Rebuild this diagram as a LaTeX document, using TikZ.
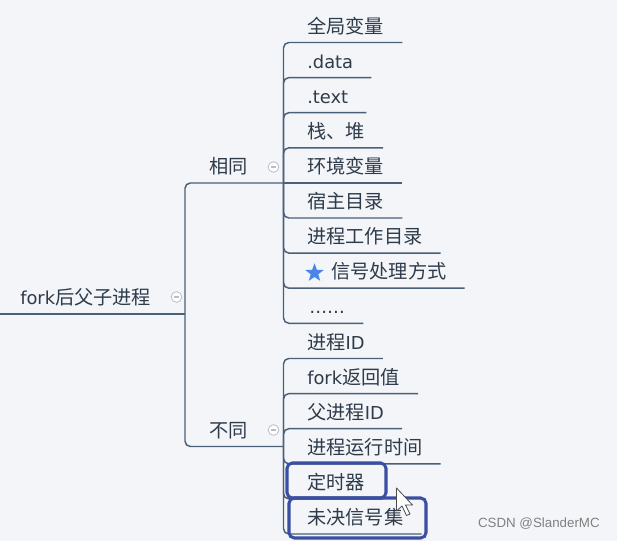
\documentclass[tikz,border=0pt]{standalone}
\usepackage{fontspec}
\setmainfont{Noto Sans CJK SC}
\newfontfamily\lat[Scale=0.93]{DejaVu Sans}
\newfontfamily\wmfont{Liberation Sans}
\usetikzlibrary{shapes.geometric}

\definecolor{bgcol}{HTML}{F3F5F9}
\definecolor{linecol}{HTML}{4A6079}
\definecolor{textcol}{HTML}{2E3B4A}
\definecolor{markcol}{HTML}{3A4EA2}
\definecolor{starcol}{HTML}{4A86E8}
\definecolor{btncol}{HTML}{B9BEC6}

\tikzset{
  topic/.style={anchor=south west, inner xsep=0pt, inner ysep=0pt,
    text height=11pt, text depth=6.9pt, text=textcol,
    font=\fontsize{14.4}{17}\selectfont},
  branch/.style={draw=linecol, line width=1.1pt, rounded corners=4pt},
  fold/.style={circle, draw=btncol, fill=white, line width=0.6pt,
    minimum size=8pt, inner sep=0pt,
    path picture={\draw[btncol, line width=0.8pt]
      ([xshift=-2pt]path picture bounding box.center) --
      ([xshift=2pt]path picture bounding box.center);}},
  markbox/.style={draw=markcol, line width=2.3pt, rounded corners=4pt},
}

\begin{document}
\begin{tikzpicture}[x=0.75pt, y=-0.75pt]
  \fill[bgcol] (0,0) rectangle (617,541);
  \useasboundingbox (0,0) rectangle (617,541);

  % root and its two branches
  \node[topic] (root) at (20,314) {{\lat fork}后父子进程};
  \node[topic] (same) at (209.5,183) {相同};
  \node[topic] (diff) at (209.5,446.5) {不同};
  \coordinate (rootL) at (0,314);
  \coordinate (rootR) at (185,314);
  \coordinate (sameR) at (283.5,183);
  \coordinate (diffR) at (283.5,446.5);
  \draw[branch] (rootL) -- (rootR);
  \draw[branch] (rootR) |- (sameR);
  \draw[branch] (rootR) |- (diffR);

  % same
  \node[topic] (s1) at (307,42.5) {全局变量};
  \node[topic] (s2) at (307,77.6) {\lat .data};
  \node[topic] (s3) at (307,112.7) {\lat .text};
  \node[topic] (s4) at (307,147.8) {栈、堆};
  \node[topic] (s5) at (307,183) {环境变量};
  \node[topic] (s6) at (307,218) {宿主目录};
  \node[topic] (s7) at (307,253.1) {进程工作目录};
  \node[topic] (s8) at (331,288.2) {信号处理方式};
  \node[topic] (s9) at (309,323.3) {\lat ……};
  \node[star, star points=5, star point ratio=2.4, fill=starcol,
    inner sep=0pt, minimum size=14.5pt] (star) at (314.5,273) {};
  \draw[branch] (sameR) |- ([xshift=13.5pt]s1.south east);
  \draw[branch] (sameR) |- ([xshift=13.5pt]s2.south east);
  \draw[branch] (sameR) |- ([xshift=13.5pt]s3.south east);
  \draw[branch] (sameR) |- ([xshift=13.5pt]s4.south east);
  \draw[branch] (sameR) -- ([xshift=13.5pt]s5.south east);
  \draw[branch] (sameR) |- ([xshift=13.5pt]s6.south east);
  \draw[branch] (sameR) |- ([xshift=13.5pt]s7.south east);
  \draw[branch] (sameR) |- ([xshift=13.5pt]s8.south east);
  \draw[branch] (sameR) |- ([xshift=13.5pt]s9.south east);

  % different
  \node[topic] (d1) at (307,358.5) {进程{\lat ID}};
  \node[topic] (d2) at (307,393.6) {{\lat fork}返回值};
  \node[topic] (d3) at (307,428.7) {父进程{\lat ID}};
  \node[topic] (d4) at (307,463.8) {进程运行时间};
  \node[topic] (d5) at (307,498.9) {定时器};
  \node[topic] (d6) at (307,534) {未决信号集};
  \draw[branch] (diffR) |- ([xshift=13.5pt]d1.south east);
  \draw[branch] (diffR) |- ([xshift=13.5pt]d2.south east);
  \draw[branch] (diffR) |- ([xshift=13.5pt]d3.south east);
  \draw[branch] (diffR) |- ([xshift=13.5pt]d4.south east);
  \draw[branch] (diffR) |- ([xshift=13.5pt]d5.south east);
  \draw[branch] (diffR) |- ([xshift=13.5pt]d6.south east);
  \draw[markbox] (287,463) rectangle (386,498);
  \draw[markbox] (289,498) rectangle (426,538);

  % fold buttons
  \node[fold] (rootbtn) at (176.5,297) {};
  \node[fold] (samebtn) at (273.5,167) {};
  \node[fold] (diffbtn) at (273.5,430) {};

  % mouse pointer
  \filldraw[fill=white, draw=black!70, line width=0.6pt, line join=round]
    (396.5,488) -- ++(0,23) -- ++(5.5,-5) -- ++(4.5,9.5) -- ++(3.5,-1.5)
    -- ++(-4.5,-9) -- ++(7,0) -- cycle;

  \node[anchor=east, inner sep=0pt, text=black!50,
    font=\wmfont\fontsize{10}{12}\selectfont] (mark) at (600,524) {CSDN @SlanderMC};
\end{tikzpicture}
\end{document}
